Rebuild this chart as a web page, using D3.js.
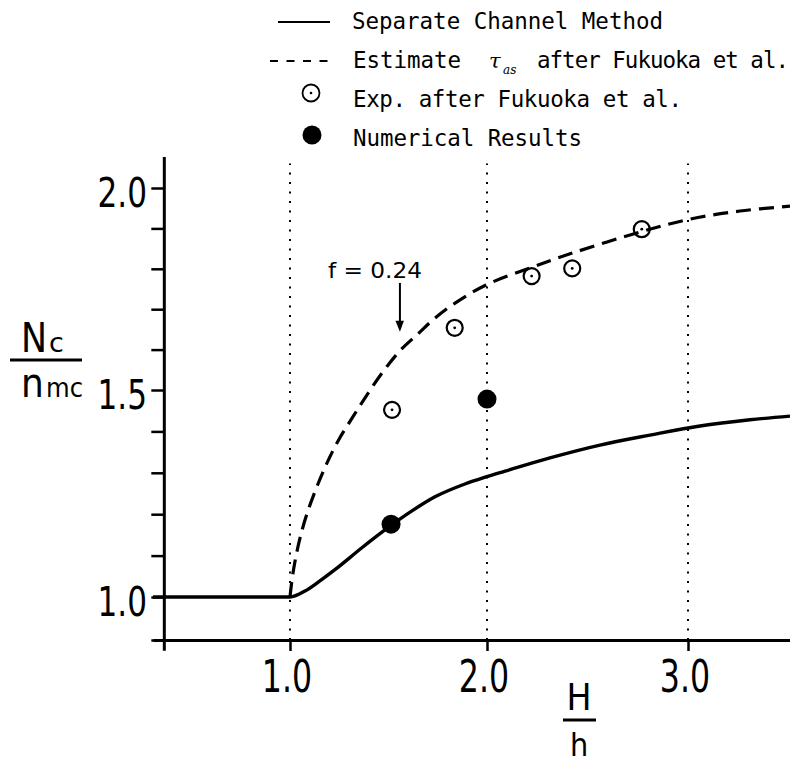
<!DOCTYPE html>
<html>
<head>
<meta charset="utf-8">
<script src="https://cdn.jsdelivr.net/npm/d3@7"></script>
<style>
  body { margin: 0; background: #fff; }
  svg { display: block; }
</style>
</head>
<body>
<div id="chart"></div>
<script>
// ---- data ----
// Separate Channel Method (solid line)
const sepX = [0.31, 1.0, 1.076, 1.152, 1.228, 1.365, 1.482, 1.619, 1.736, 1.888, 1.995, 2.09, 2.313, 2.562, 2.811, 3.06, 3.31, 3.51];
const sepY = [1.0, 1.0, 1.0145, 1.039, 1.066, 1.119, 1.162, 1.208, 1.242, 1.273, 1.29, 1.304, 1.336, 1.367, 1.391, 1.413, 1.428, 1.437];

// Estimate tau_as after Fukuoka et al. (dashed line)
const estX = [1.0, 1.01, 1.025, 1.051, 1.091, 1.142, 1.188, 1.244, 1.315, 1.381, 1.467, 1.558, 1.65, 1.736, 1.838, 1.995, 2.214, 2.413, 2.761, 3.01, 3.26, 3.51];
const estY = [1.0, 1.041, 1.085, 1.143, 1.208, 1.273, 1.324, 1.377, 1.432, 1.481, 1.542, 1.597, 1.639, 1.678, 1.715, 1.76, 1.802, 1.837, 1.891, 1.923, 1.943, 1.955];

// Exp. after Fukuoka et al. (open circles)
const expX = [1.518, 1.836, 2.222, 2.424, 2.77];
const expY = [1.452, 1.654, 1.782, 1.801, 1.898];

// Numerical Results (filled circles)
const numX = [1.513, 2.0];
const numY = [1.176, 1.478];

const xTicks = [1, 2, 3];
const xTickLabels = ["1.0", "2.0", "3.0"];
const yTicks = [0.9, 1.0, 1.1, 1.2, 1.3, 1.4, 1.5, 1.6, 1.7, 1.8, 1.9, 2.0];
const yLabelTicks = [1.0, 1.5, 2.0];
const yTickLabels = ["1.0", "1.5", "2.0"];
const gridX = [1, 2, 3];

const legendLabels = ["Separate Channel Method", "Estimate", "Exp. after Fukuoka et al.", "Numerical Results"];
const annotation = { text: "f = 0.24", x: 1.193, y: 1.777, arrowX: 1.558, arrowTop: 1.765, arrowTip: 1.644 };

// ---- layout ----
const width = 790, height = 764;
const numFont = "'DejaVu Sans', sans-serif";
const monoFont = "'DejaVu Sans Mono', monospace";

const svg = d3.select("#chart").append("svg")
    .attr("width", width)
    .attr("height", height);

// hand drawn axes are slightly uneven, so piecewise scales
const x = d3.scaleLinear()
    .domain([0.31, 1, 2, 3, 3.51])
    .range([153, 290, 487, 688, 790]);
const y = d3.scaleLinear()
    .domain([0.9, 1, 1.5, 2, 2.076])
    .range([640, 597, 390, 188, 157]);

const yAxisAt = 0.367;

// dotted verticals
svg.append("g").selectAll("line")
    .data(gridX)
    .enter()
    .append("line")
    .attr("x1", d => x(d))
    .attr("x2", d => x(d))
    .attr("y1", y(0.9))
    .attr("y2", y(2.06))
    .attr("stroke", "#000")
    .attr("stroke-width", 2)
    .attr("stroke-dasharray", "2,7.5");

// x axis
const xAxis = d3.axisBottom(x)
    .tickValues(xTicks)
    .tickSize(11)
    .tickSizeOuter(0)
    .tickFormat("");
const gx = svg.append("g")
    .attr("transform", `translate(0,${y(0.9)})`)
    .call(xAxis);
gx.select(".domain").attr("stroke-width", 3);
gx.selectAll(".tick line").attr("stroke-width", 2.5);

// y axis
const yAxis = d3.axisLeft(y)
    .tickValues(yTicks)
    .tickSize(13)
    .tickSizeOuter(0)
    .tickFormat("");
const gy = svg.append("g")
    .attr("transform", `translate(${x(yAxisAt)},0)`)
    .call(yAxis);
gy.select(".domain").remove();
gy.selectAll(".tick line").attr("stroke-width", 2.5);
gy.append("line")
    .attr("y1", y(0.875))
    .attr("y2", y(2.076))
    .attr("stroke", "#000")
    .attr("stroke-width", 3);

// tick labels
svg.append("g").selectAll("text")
    .data(xTicks)
    .enter()
    .append("text")
    .attr("transform", d => `translate(${x(d) - 3},692) scale(0.72,1)`)
    .attr("text-anchor", "middle")
    .style("font-family", numFont)
    .style("font-size", "44px")
    .text((d, i) => xTickLabels[i]);

svg.append("g").selectAll("text")
    .data(yLabelTicks)
    .enter()
    .append("text")
    .attr("transform", d => `translate(147,${y(d) + 19}) scale(0.76,1)`)
    .attr("text-anchor", "end")
    .style("font-family", numFont)
    .style("font-size", "41px")
    .text((d, i) => yTickLabels[i]);

// y label  Nc / nmc
const yl = svg.append("g").style("font-family", numFont);
yl.append("text").attr("transform", "translate(21,352) scale(0.85,1)")
    .style("font-size", "41px").text("N");
yl.append("text").attr("x", 49).attr("y", 352)
    .style("font-size", "27px").text("c");
yl.append("line").attr("x1", 10).attr("x2", 82).attr("y1", 360).attr("y2", 360)
    .attr("stroke", "#000").attr("stroke-width", 3);
yl.append("text").attr("transform", "translate(21,397) scale(0.9,1)")
    .style("font-size", "40px").text("n");
yl.append("text").attr("transform", "translate(46,397) scale(0.9,1)")
    .style("font-size", "27px").text("mc");

// x label  H / h
const xl = svg.append("g").style("font-family", numFont).attr("text-anchor", "middle");
xl.append("text").attr("transform", "translate(579,710) scale(0.9,1)")
    .style("font-size", "37px").text("H");
xl.append("line").attr("x1", 563).attr("x2", 596).attr("y1", 720).attr("y2", 720)
    .attr("stroke", "#000").attr("stroke-width", 3);
xl.append("text").attr("transform", "translate(579,756) scale(0.9,1)")
    .style("font-size", "32px").text("h");

// curves
const solidLine = d3.line()
    .x(d => x(d[0]))
    .y(d => y(d[1]))
    .curve(d3.curveMonotoneX);
const dashLine = d3.line()
    .x(d => x(d[0]))
    .y(d => y(d[1]))
    .curve(d3.curveCatmullRom.alpha(0.5));

svg.append("path")
    .datum(sepX.map((v, i) => [v, sepY[i]]))
    .attr("d", solidLine)
    .attr("fill", "none")
    .attr("stroke", "#000")
    .attr("stroke-width", 3.4)
    .attr("stroke-linejoin", "round");

svg.append("path")
    .datum(estX.map((v, i) => [v, estY[i]]))
    .attr("d", dashLine)
    .attr("fill", "none")
    .attr("stroke", "#000")
    .attr("stroke-width", 3.2)
    .attr("stroke-dasharray", "15,8");

// open circles
const exp = svg.append("g").selectAll("g")
    .data(expX.map((v, i) => [v, expY[i]]))
    .enter()
    .append("g")
    .attr("transform", d => `translate(${x(d[0])},${y(d[1])})`);
exp.append("circle").attr("r", 8).attr("fill", "none")
    .attr("stroke", "#000").attr("stroke-width", 2.2);
exp.append("circle").attr("r", 1.4).attr("fill", "#000");

// filled circles
svg.append("g").selectAll("circle")
    .data(numX.map((v, i) => [v, numY[i]]))
    .enter()
    .append("circle")
    .attr("cx", d => x(d[0]))
    .attr("cy", d => y(d[1]))
    .attr("r", 9.5)
    .attr("fill", "#000");

// annotation f = 0.24
svg.append("text")
    .attr("x", x(annotation.x))
    .attr("y", y(annotation.y))
    .attr("textLength", 94)
    .attr("lengthAdjust", "spacingAndGlyphs")
    .style("font-family", numFont)
    .style("font-size", "22px")
    .text(annotation.text);
const ax = x(annotation.arrowX);
svg.append("line")
    .attr("x1", ax).attr("x2", ax)
    .attr("y1", y(annotation.arrowTop))
    .attr("y2", y(annotation.arrowTip) - 8)
    .attr("stroke", "#000")
    .attr("stroke-width", 2);
svg.append("path")
    .attr("d", `M${ax - 4.5},${y(annotation.arrowTip) - 11}L${ax + 4},${y(annotation.arrowTip) - 11}L${ax},${y(annotation.arrowTip)}Z`)
    .attr("fill", "#000");

// legend
const lg = svg.append("g")
    .style("font-family", monoFont)
    .style("font-size", "22.5px");
const rowY = [29, 68, 107, 146];

lg.append("line").attr("x1", 278).attr("x2", 330).attr("y1", rowY[0] - 7).attr("y2", rowY[0] - 7)
    .attr("stroke", "#000").attr("stroke-width", 2.2);
lg.append("text").attr("x", 352).attr("y", rowY[0]).attr("textLength", 311).text(legendLabels[0]);

lg.append("line").attr("x1", 270).attr("x2", 328).attr("y1", rowY[1] - 7).attr("y2", rowY[1] - 7)
    .attr("stroke", "#000").attr("stroke-width", 2.2).attr("stroke-dasharray", "8,8.5");
lg.append("text").attr("x", 353).attr("y", rowY[1]).attr("textLength", 108).text(legendLabels[1]);
lg.append("text").attr("x", 489).attr("y", rowY[1])
    .style("font-family", "'DejaVu Serif', serif").style("font-style", "italic")
    .style("font-size", "21px").text("\u03c4");
lg.append("text").attr("x", 503).attr("y", rowY[1] + 6)
    .style("font-family", "'DejaVu Serif', serif").style("font-style", "italic")
    .style("font-size", "12px").text("as");
lg.append("text").attr("x", 537).attr("y", rowY[1]).attr("textLength", 252).text("after Fukuoka et al.");

lg.append("circle").attr("cx", 311).attr("cy", rowY[2] - 14).attr("r", 8.5)
    .attr("fill", "none").attr("stroke", "#000").attr("stroke-width", 1.8);
lg.append("circle").attr("cx", 311).attr("cy", rowY[2] - 14).attr("r", 1.3).attr("fill", "#000");
lg.append("text").attr("x", 353).attr("y", rowY[2]).attr("textLength", 329).text(legendLabels[2]);

lg.append("circle").attr("cx", 312).attr("cy", rowY[3] - 11).attr("r", 9.5).attr("fill", "#000");
lg.append("text").attr("x", 353).attr("y", rowY[3]).attr("textLength", 229).text(legendLabels[3]);
</script>
</body>
</html>
